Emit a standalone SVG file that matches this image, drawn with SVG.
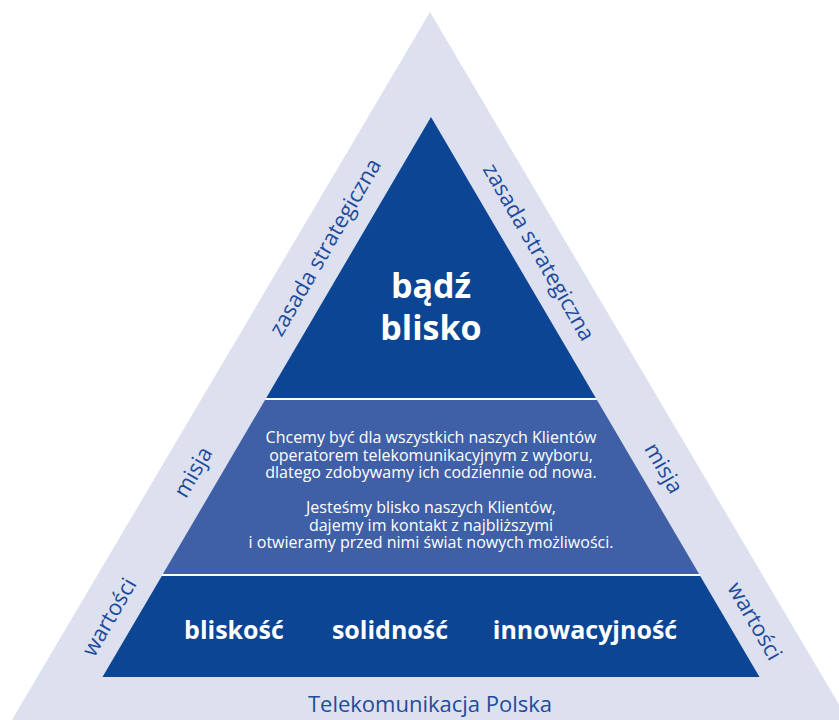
<svg xmlns="http://www.w3.org/2000/svg" width="839" height="720" viewBox="0 0 839 720">
  <style>
    .frame { fill: #dde0ef; }
    .dark { fill: #0c4594; }
    .mid { fill: #3f5fa6; }
    .sep { stroke: #ffffff; stroke-width: 2; }
    .side { font-family: "Open Sans", "Liberation Sans", sans-serif; font-size: 22px; fill: #1d4c9c; text-anchor: middle; }
    .head { font-family: "Open Sans", "Liberation Sans", sans-serif; font-weight: 700; font-size: 34px; fill: #ffffff; text-anchor: middle; }
    .body { font-family: "Open Sans", "Liberation Sans", sans-serif; font-size: 16px; fill: #ffffff; text-anchor: middle; }
    .value { font-family: "Open Sans", "Liberation Sans", sans-serif; font-weight: 700; font-size: 25px; fill: #ffffff; text-anchor: middle; }
    .brand { font-family: "Open Sans", "Liberation Sans", sans-serif; font-size: 22px; fill: #1d4c9c; text-anchor: middle; }
  </style>
  <rect width="839" height="720" fill="#ffffff"/>

  <!-- outer light frame -->
  <g id="frame">
    <polygon class="frame" points="430,12 854,730 6,730"/>
  </g>

  <!-- top tier: strategic principle -->
  <g id="tier-principle">
    <polygon class="dark" points="431,117 595.8,398 266.2,398"/>
    <text class="head" x="431" y="298">bądź</text>
    <text class="head" x="431" y="340">blisko</text>
  </g>

  <!-- middle tier: mission -->
  <g id="tier-mission">
    <polygon class="mid" points="265,400 597,400 699.1,574 162.9,574"/>
    <text class="body" x="431" y="443">Chcemy być dla wszystkich naszych Klientów</text>
    <text class="body" x="431" y="460.5">operatorem telekomunikacyjnym z wyboru,</text>
    <text class="body" x="431" y="478">dlatego zdobywamy ich codziennie od nowa.</text>
    <text class="body" x="431" y="513">Jesteśmy blisko naszych Klientów,</text>
    <text class="body" x="431" y="530.5">dajemy im kontakt z najbliższymi</text>
    <text class="body" x="431" y="548">i otwieramy przed nimi świat nowych możliwości.</text>
  </g>

  <!-- bottom tier: values -->
  <g id="tier-values">
    <polygon class="dark" points="161.8,576 700.2,576 759.5,677 102.5,677"/>
    <text class="value" x="234" y="639">bliskość</text>
    <text class="value" x="390" y="639">solidność</text>
    <text class="value" x="585" y="639">innowacyjność</text>
  </g>

  <!-- tier separators -->
  <g id="separators">
    <line class="sep" x1="266" y1="399" x2="596" y2="399"/>
    <line class="sep" x1="162" y1="575" x2="700" y2="575"/>
  </g>

  <!-- side labels -->
  <g id="labels-left">
    <text class="side" transform="translate(325,247) rotate(-60)" dy="0.35em">zasada strategiczna</text>
    <text class="side" transform="translate(193,472) rotate(-60)" dy="0.35em">misja</text>
    <text class="side" transform="translate(109,617) rotate(-60)" dy="0.35em">wartości</text>
  </g>
  <g id="labels-right">
    <text class="side" transform="translate(539,252) rotate(60)" dy="0.35em">zasada strategiczna</text>
    <text class="side" transform="translate(664,468) rotate(60)" dy="0.35em">misja</text>
    <text class="side" transform="translate(755,621) rotate(60)" dy="0.35em">wartości</text>
  </g>

  <g id="brand">
    <text class="brand" x="430" y="712">Telekomunikacja Polska</text>
  </g>
</svg>
